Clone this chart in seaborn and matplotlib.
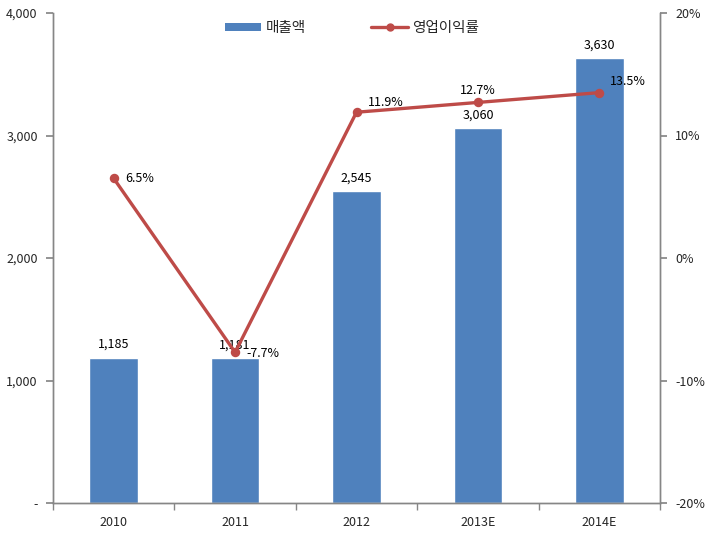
import matplotlib
matplotlib.use("Agg")
import matplotlib.pyplot as plt
import seaborn as sns
import pandas as pd
from matplotlib.ticker import FuncFormatter, FixedLocator
from matplotlib.patches import Patch
from matplotlib.lines import Line2D

years = ["2010", "2011", "2012", "2013E", "2014E"]
sales = [1185, 1181, 2545, 3060, 3630]
margin = [6.5, -7.7, 11.9, 12.7, 13.5]
left_ticks = [0, 1000, 2000, 3000, 4000]
right_ticks = [-20, -10, 0, 10, 20]
sales_name = "매출액"
margin_name = "영업이익률"

sns.set_theme(style="white")
plt.rcParams['font.family'] = ['Noto Sans CJK KR', 'DejaVu Sans']

bar_color = "#4F81BD"
line_color = "#BE4B48"
axis_color = "#868686"
fs = 9

df = pd.DataFrame({"year": years, "sales": sales, "margin": margin})

fig = plt.figure(figsize=(7.08, 5.33), dpi=100)
ax = fig.add_axes([53/708, 1-503/533, (660-53)/708, (503-13)/533])
sns.barplot(data=df, x="year", y="sales", color=bar_color, width=0.4,
            saturation=1, ax=ax, zorder=2)
ax.set_ylim(0, 4000)
ax.set_xlim(-0.5, 4.5)
ax.yaxis.set_major_locator(FixedLocator(left_ticks))
ax.yaxis.set_major_formatter(FuncFormatter(lambda v, p: "-" if v == 0 else f"{int(v):,}"))
ax.set_xlabel("")
ax.set_ylabel("")

for i, v in enumerate(sales):
    ax.annotate(f"{v:,}", (i, v), xytext=(0, 5), textcoords="offset points",
                ha="center", va="bottom", fontsize=fs, color="black")

ax2 = ax.twinx()
sns.pointplot(data=df, x="year", y="margin", color=line_color, markers="o",
              markersize=5, linewidth=2.4, ax=ax2, zorder=3)
ax2.set_ylim(-20, 20)
ax2.set_xlim(-0.5, 4.5)
ax2.yaxis.set_major_locator(FixedLocator(right_ticks))
ax2.yaxis.set_major_formatter(FuncFormatter(lambda v, p: f"{int(v)}%"))
ax2.set_ylabel("")
ax2.set_xlabel("")

offsets = [(8, 0, "left", "center"), (8, -1, "left", "center"),
           (8, 7, "left", "center"), (0, 4, "center", "bottom"),
           (8, 8, "left", "center")]
for i, v in enumerate(margin):
    dx, dy, ha, va = offsets[i]
    ax2.annotate(f"{v}%", (i, v), xytext=(dx, dy), textcoords="offset points",
                 ha=ha, va=va, fontsize=fs, color="black")

for a in (ax, ax2):
    for s in a.spines.values():
        s.set_color(axis_color)
        s.set_linewidth(1)
    a.spines["top"].set_visible(False)

ax.tick_params(axis="y", which="major", direction="out", length=5, color=axis_color,
               labelsize=fs, left=True, pad=6)
ax2.tick_params(axis="y", which="major", direction="out", length=5, color=axis_color,
                labelsize=fs, right=True, pad=6)
ax.tick_params(axis="x", which="major", length=0, labelsize=fs, pad=9)
ax.xaxis.set_minor_locator(FixedLocator([-0.5, 0.5, 1.5, 2.5, 3.5, 4.5]))
ax.tick_params(axis="x", which="minor", direction="out", length=5, color=axis_color, bottom=True)

handles = [Patch(facecolor=bar_color, edgecolor="none", label=sales_name),
           Line2D([0], [0], color=line_color, lw=2.4, marker="o", markersize=5, label=margin_name)]
fig.legend(handles=handles, loc="center", bbox_to_anchor=(352/708, 1-28/533), ncol=2,
           frameon=False, fontsize=10.5, columnspacing=4.5, handlelength=2.5,
           handleheight=0.5, handletextpad=0.3)

fig.savefig("out.png", dpi=100)
